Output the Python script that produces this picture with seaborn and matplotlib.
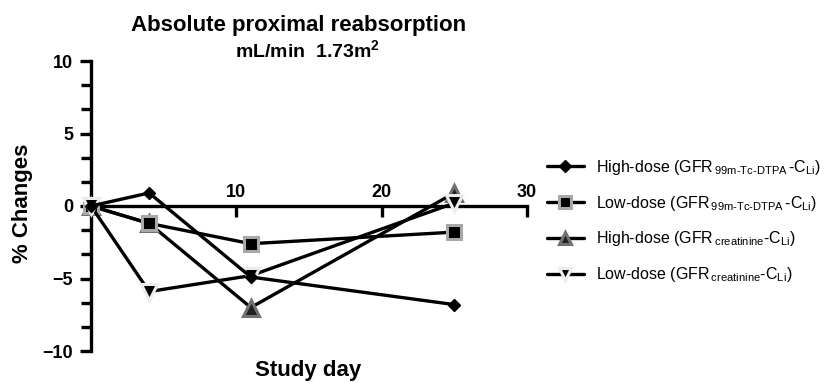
import matplotlib
matplotlib.use("Agg")
import matplotlib.pyplot as plt
import seaborn as sns
import pandas as pd
from matplotlib.lines import Line2D
from matplotlib.ticker import MultipleLocator, FixedLocator

# ---- data ----
days = [0, 4, 11, 25]
high_dtpa = [0, 0.9, -4.9, -6.8]
low_dtpa = [0, -1.2, -2.6, -1.8]
high_creat = [0, -1.2, -7.0, 0.9]
low_creat = [0, -5.9, -4.8, 0.2]
series_labels = [
    r"High-dose (GFR$_{\,99m‐Tc‐DTPA\,}$-C$_{Li}$)",
    r"Low-dose (GFR$_{\,99m‐Tc‐DTPA\,}$-C$_{Li}$)",
    r"High-dose (GFR$_{\,creatinine}$-C$_{Li}$)",
    r"Low-dose (GFR$_{\,creatinine}$-C$_{Li}$)",
]
x_ticks = [10, 20, 30]
y_ticks = [-10, -5, 0, 5, 10]

sns.set_style("ticks")
plt.rcParams["font.family"] = ["Liberation Sans", "DejaVu Sans"]
plt.rcParams["mathtext.default"] = "regular"
for key in ["text.color", "axes.labelcolor", "xtick.color", "ytick.color", "axes.edgecolor"]:
    plt.rcParams[key] = "black"

df = pd.DataFrame({
    "day": days * 4,
    "value": high_dtpa + low_dtpa + high_creat + low_creat,
    "series": sum([[s] * len(days) for s in series_labels], []),
})

styles = [
    dict(marker="D", markersize=6, markerfacecolor="black", markeredgecolor="black", markeredgewidth=1),
    dict(marker="s", markersize=10, markerfacecolor="black", markeredgecolor="#a8a8a8", markeredgewidth=2.2),
    dict(marker="^", markersize=11, markerfacecolor="#202020", markeredgecolor="#707070", markeredgewidth=2.2),
    dict(marker="v", markersize=11, markerfacecolor="black", markeredgecolor="#ececec", markeredgewidth=2.2),
]
legend_sizes = [6, 8, 9, 9]
zorders = [5, 4, 3, 4]

fig = plt.figure(figsize=(8.33, 3.83), dpi=100)
ax = fig.add_axes([91 / 833, 32 / 383, 436 / 833, 290 / 383])

for lab, st, z in zip(series_labels, styles, zorders):
    sub = df[df["series"] == lab]
    sns.lineplot(data=sub, x="day", y="value", ax=ax, color="black", linewidth=2.4,
                 clip_on=False, zorder=z, legend=False, **st)

ax.set_xlim(0, 30)
ax.set_ylim(-10, 10)

ax.spines["right"].set_visible(False)
ax.spines["top"].set_position(("data", 0))
ax.spines["top"].set_visible(False)
ax.spines["bottom"].set_position(("data", 0))
ax.spines["left"].set_position(("data", 0))
for side in ["bottom", "left"]:
    ax.spines[side].set_linewidth(2.4)
    ax.spines[side].set_color("black")
    ax.spines[side].set_zorder(2)

ax.xaxis.set_major_locator(FixedLocator(x_ticks))
ax.yaxis.set_major_locator(FixedLocator(y_ticks))
ax.yaxis.set_minor_locator(MultipleLocator(5 / 3))
ax.tick_params(axis="x", which="both", bottom=True, top=False, labelbottom=False, labeltop=True,
               direction="out", length=8, width=2.4, pad=-4.5, labelsize=13, colors="black")
ax.tick_params(axis="y", which="major", direction="out", length=8, width=2.4, pad=5, labelsize=13,
               colors="black")
ax.tick_params(axis="y", which="minor", direction="out", length=7, width=2.4, colors="black")
for t in ax.get_xticklabels() + ax.get_yticklabels():
    t.set_fontweight("bold")

ax.set_xlabel("Study day", fontsize=16, fontweight="bold", color="black")
ax.set_ylabel("% Changes", fontsize=16, fontweight="bold", color="black")
ax.xaxis.set_label_coords(0.497, -0.03)
ax.yaxis.set_label_coords(-0.133, 0.51)

fig.text(298.5 / 833, 1 - 25 / 383, "Absolute proximal reabsorption", ha="center", va="center",
         fontsize=16, fontweight="bold", color="black")
fig.text(307 / 833, 1 - 50 / 383, r"mL/min  1.73m$^{2}$", ha="center", va="center",
         fontsize=14, fontweight="bold", color="black")

handles = [Line2D([], [], color="black", linewidth=2.4,
                  **{**st, "markersize": ms}) for st, ms in zip(styles, legend_sizes)]
leg = fig.legend(handles, series_labels, loc="center left", bbox_to_anchor=(547 / 833, 1 - 221 / 383),
                 frameon=False, fontsize=11.5, handlelength=2.3, handletextpad=0.75, labelspacing=1.05,
                 borderpad=0, borderaxespad=0)
for t in leg.get_texts():
    t.set_color("black")

fig.savefig("out.png", dpi=100, facecolor="white")
